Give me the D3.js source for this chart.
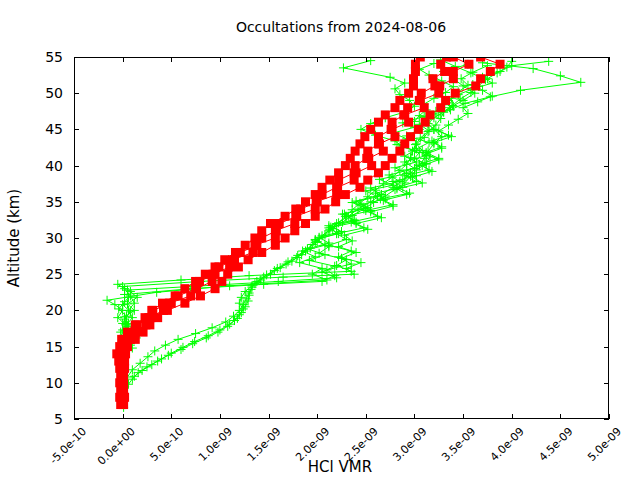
<!DOCTYPE html>
<html><head><meta charset="utf-8">
<script src="https://cdn.jsdelivr.net/npm/d3@7"></script>
<style>body{margin:0;background:#fff}svg{display:block}text{font-family:"DejaVu Sans",sans-serif;fill:#000}</style>
</head><body><svg id="c" width="640" height="480"></svg>
<script>
// values of VMR in units of 1e-9
const xTicks = [-0.5,0,0.5,1,1.5,2,2.5,3,3.5,4,4.5,5];
const xTickLabels = ["-5.0e-10","0.0e+00","5.0e-10","1.0e-09","1.5e-09","2.0e-09","2.5e-09","3.0e-09","3.5e-09","4.0e-09","4.5e-09","5.0e-09"];
const yTicks = [5,10,15,20,25,30,35,40,45,50,55];
const titleText = "Occultations from 2024-08-06";
const xLabel = "HCl VMR";
const yLabel = "Altitude (km)";

const redAlt = [7,8,9,10,11,12,13,14,15,16,17,18,19,20,21,22,23,24,25,26,27,28,29,30,31,32,33,34,35,36,37,38,39,40,41,42,43,44,45,46,47,48,49,50,51,52,53,54,55];
const red1 = [-0.02,-0.03,-0.02,-0.03,-0.02,-0.03,-0.04,-0.06,-0.03,-0.01,0.05,0.13,0.23,0.30,0.41,0.54,0.64,0.75,0.85,0.95,1.05,1.16,1.26,1.36,1.43,1.52,1.67,1.78,1.88,1.98,2.05,2.13,2.22,2.29,2.34,2.39,2.44,2.49,2.55,2.63,2.70,2.80,2.85,2.94,2.99,2.99,3.01,3.01,3.06];
const red2 = [0.00,0.01,0.00,-0.01,0.00,0.01,0.00,0.01,0.02,0.08,0.12,0.24,0.27,0.42,0.48,0.70,0.76,0.92,0.93,1.10,1.13,1.34,1.36,1.57,1.57,1.77,1.78,1.98,1.99,2.20,2.21,2.38,2.40,2.56,2.53,2.68,2.64,2.80,2.77,2.94,2.90,3.10,3.06,3.25,3.26,3.40,3.40,3.56,3.40];
const red3 = [-0.01,0.00,-0.01,0.00,-0.01,0.00,-0.01,-0.02,0.00,0.01,0.13,0.15,0.29,0.31,0.50,0.57,0.75,0.79,0.95,0.99,1.15,1.21,1.38,1.43,1.58,1.61,1.79,1.83,2.00,2.05,2.20,2.22,2.38,2.39,2.51,2.52,2.63,2.63,2.76,2.77,2.89,2.93,3.05,3.07,3.21,3.19,3.31,3.27,3.33];
const red4 = [0.01,0.02,0.01,0.01,0.01,0.02,0.02,0.03,0.05,0.13,0.21,0.28,0.36,0.46,0.64,0.80,0.95,1.02,1.08,1.19,1.29,1.43,1.57,1.67,1.77,1.88,1.98,2.08,2.19,2.29,2.44,2.52,2.63,2.70,2.77,2.85,2.90,2.96,3.04,3.11,3.16,3.27,3.32,3.42,3.63,3.68,3.78,3.88,3.68];

// green profiles: [altitude km, VMR 1e-9]
const g1 = [[6.6,0.01],[8.0,0.00],[9.5,0.02],[10.8,0.05],[11.8,0.10],[12.7,0.18],[13.6,0.26],[14.4,0.33],[15.2,0.44],[16.0,0.57],[16.8,0.75],[17.6,0.92],[18.4,1.06],[19.2,1.14],[20.0,1.20],[20.8,1.24],[21.6,1.27],[22.4,1.30],[23.2,1.33],[24.0,1.38],[24.9,1.48],[25.8,1.59],[26.7,1.70],[27.6,1.80],[28.5,1.90],[29.4,1.98],[30.3,2.05],[31.2,2.13],[32.1,2.22],[33.0,2.29],[33.9,2.36],[34.8,2.44],[35.7,2.52],[36.6,2.60],[37.5,2.68],[38.4,2.77],[39.3,2.85],[40.2,2.92],[41.1,2.96],[42.0,2.98],[42.9,3.01],[43.8,3.06],[44.7,3.14],[45.6,3.22],[46.5,3.27],[47.4,3.30],[48.3,3.39],[49.2,3.47],[50.1,3.58],[51.0,3.66],[51.9,3.73],[52.8,3.58],[53.7,3.42],[54.6,3.27]];
const g2 = [[9.8,0.06],[10.9,0.12],[11.7,0.20],[12.5,0.30],[13.3,0.40],[14.1,0.50],[14.9,0.62],[15.7,0.74],[16.5,0.88],[17.3,1.00],[18.1,1.10],[18.9,1.18],[19.7,1.22],[20.5,1.26],[21.3,1.29],[22.1,1.30],[22.9,1.32],[23.7,1.36],[24.6,1.45],[25.5,1.56],[26.4,1.68],[27.3,1.79],[28.2,1.88],[29.1,1.95],[30.0,2.02],[31.0,2.12],[32.0,2.20],[33.0,2.32],[34.0,2.42],[35.0,2.55],[36.0,2.66],[37.0,2.78],[38.0,2.88],[39.0,2.96],[40.0,3.05],[41.0,3.10],[42.0,3.14],[43.0,3.20],[44.0,3.28],[45.0,3.20],[46.0,3.12],[47.0,3.25],[48.0,3.36],[49.0,3.50],[50.0,3.62],[51.0,3.50],[52.0,3.40],[53.0,3.30],[54.0,3.55]];
const g3 = [[10.5,0.10],[11.4,0.16],[12.2,0.25],[13.0,0.36],[13.8,0.47],[14.6,0.60],[15.4,0.72],[16.2,0.86],[17.0,0.98],[17.8,1.08],[18.6,1.15],[19.4,1.20],[20.2,1.24],[21.0,1.20],[21.8,1.22],[22.6,1.26],[23.4,1.33],[24.2,1.42],[25.0,1.52],[25.9,1.62],[26.8,1.74],[27.7,1.84],[28.6,1.93],[29.5,2.00],[30.4,2.08],[31.3,2.16],[32.2,2.26],[33.1,2.36],[34.0,2.48],[34.9,2.58],[35.8,2.70],[36.7,2.80],[37.6,2.90],[38.5,2.96],[39.4,3.02],[40.3,3.12],[41.2,3.16],[42.1,3.08],[43.0,3.02],[43.9,3.10],[44.8,3.15],[45.7,3.05],[46.6,3.12],[47.5,3.22],[48.4,3.30],[49.3,3.38],[50.2,3.45],[51.1,3.55],[52.0,3.48],[52.9,3.60],[53.8,3.75]];
const g4 = [[15.0,0.05],[16.0,0.03],[17.0,0.08],[18.0,0.04],[19.0,0.10],[20.0,0.06],[21.0,0.12],[22.0,0.08],[23.0,0.02],[23.6,-0.05],[24.2,0.60],[24.8,1.30],[25.4,2.35],[26.2,2.20],[27.0,2.30],[27.9,2.02],[28.8,2.12],[29.7,1.98],[30.6,2.20],[31.5,2.14],[32.4,2.38],[33.3,2.28],[34.2,2.52],[35.1,2.40],[36.0,2.66],[36.9,2.55],[37.8,2.85],[38.7,2.74],[39.6,3.00],[40.5,2.90],[41.4,3.12],[42.3,3.02],[43.2,3.15],[44.1,2.92],[45.0,3.05],[45.9,2.88],[46.8,3.10],[47.7,3.37],[48.6,3.52],[49.5,3.78],[50.4,4.09],[51.5,4.71],[52.4,4.50],[53.4,4.22],[54.2,3.70]];
const g5 = [[15.5,0.00],[16.4,0.04],[17.3,0.00],[18.2,0.06],[19.1,0.02],[20.0,0.12],[20.9,0.05],[21.8,0.15],[22.6,0.08],[23.3,0.00],[24.0,0.80],[24.6,1.65],[25.0,2.38],[25.8,2.30],[26.6,2.45],[27.4,2.22],[28.2,2.35],[29.0,2.12],[29.8,2.30],[30.6,2.20],[31.4,2.48],[32.2,2.35],[33.0,2.62],[33.8,2.50],[34.6,2.78],[35.4,2.65],[36.2,2.95],[37.0,2.82],[37.8,3.02],[38.6,2.90],[39.4,3.15],[40.2,3.05],[41.0,3.25],[41.8,3.12],[42.6,3.28],[43.4,3.18],[44.2,3.35],[45.0,3.20],[45.8,3.14],[46.6,3.20],[47.4,3.30],[48.2,3.40],[49.0,3.35],[49.8,3.45],[50.6,3.60],[51.4,3.80],[52.2,3.70],[53.0,3.88],[53.8,4.00],[54.4,4.38]];
const g6 = [[14.8,0.10],[15.8,0.06],[16.8,0.12],[17.8,0.05],[18.8,0.02],[19.8,0.08],[20.8,0.00],[21.8,0.06],[22.8,0.05],[23.5,0.95],[24.0,1.60],[24.5,2.20],[25.3,2.05],[26.1,2.18],[26.9,1.92],[27.7,2.08],[28.5,1.90],[29.3,2.12],[30.1,2.02],[30.9,2.25],[31.7,2.12],[32.5,2.38],[33.3,2.26],[34.1,2.50],[34.9,2.36],[35.7,2.62],[36.5,2.50],[37.3,2.78],[38.1,2.64],[38.9,2.92],[39.7,2.80],[40.5,3.02],[41.3,2.90],[42.1,3.00],[42.9,2.82],[43.7,2.92],[44.5,2.78],[45.3,3.00],[46.1,3.00],[46.9,3.05],[47.7,3.12],[48.5,3.10],[49.3,3.20],[50.1,3.32],[50.9,3.40],[51.7,3.28],[52.5,3.15],[53.3,3.05],[54.1,3.20]];
const g7 = [[16.0,0.00],[17.0,-0.02],[18.0,0.03],[19.0,-0.05],[20.0,0.00],[20.8,-0.08],[21.4,-0.16],[22.5,0.35],[23.4,1.10],[24.2,2.10],[25.0,1.95],[25.8,2.05],[26.6,1.82],[27.4,1.98],[28.2,1.85],[29.0,2.08],[29.8,1.98],[30.6,2.22],[31.4,2.12],[32.2,2.40],[33.0,2.30],[33.8,2.55],[34.6,2.45],[35.4,2.70],[36.2,2.60],[37.0,2.88],[37.8,2.78],[38.6,3.02],[39.4,2.92],[40.2,3.12],[41.0,3.00],[41.8,3.05],[42.6,2.88],[43.4,2.80],[44.2,2.60],[45.0,2.45],[45.8,2.55],[46.6,2.70],[47.4,2.90],[48.2,3.00],[49.0,2.95],[49.8,2.85],[50.6,2.80],[51.4,2.90],[52.2,2.75],[53.5,2.27],[54.5,2.55]];
const g8 = [[15.2,0.08],[16.2,0.14],[17.2,0.10],[18.2,0.00],[19.2,0.04],[20.2,-0.04],[21.2,0.02],[22.2,0.02],[23.0,0.70],[23.6,1.45],[24.0,2.05],[24.8,2.18],[25.6,2.10],[26.4,2.35],[27.2,2.25],[28.0,2.40],[28.8,2.22],[29.6,2.36],[30.4,2.28],[31.2,2.52],[32.0,2.40],[32.8,2.66],[33.6,2.55],[34.4,2.78],[35.2,2.68],[36.0,2.92],[36.8,2.82],[37.6,3.08],[38.4,2.98],[39.2,3.18],[40.0,3.08],[40.8,3.25],[41.6,3.12],[42.4,3.28],[43.2,3.20],[44.0,3.38],[44.8,3.25],[45.6,3.35],[46.4,3.45],[47.2,3.55],[48.0,3.50],[48.8,3.65],[49.6,3.80],[50.4,3.70],[51.2,3.60],[52.0,3.75],[52.8,3.85],[53.6,3.95],[54.4,4.00]];

const greenProfiles = [g1,g2,g3,g4,g5,g6,g7,g8];
const redProfiles = [red1,red2,red3,red4].map(v => redAlt.map((a,i)=>[a,v[i]]));

const L=74, R=609, T=57, B=419;
const x = d3.scaleLinear().domain([-0.5,5]).range([L,R]);
const y = d3.scaleLinear().domain([5,55]).range([B,T]);
const svg = d3.select("#c");

svg.append("defs").append("clipPath").attr("id","clip").append("rect")
  .attr("x",L).attr("y",T).attr("width",R-L).attr("height",B-T);
const plot = svg.append("g").attr("clip-path","url(#clip)");

const line = d3.line().x(d=>x(d[1])).y(d=>y(d[0]));
const GREEN = "#00ff00", RED = "#ff0000";

greenProfiles.forEach(p=>{
  plot.append("path").datum(p).attr("d",line).attr("fill","none")
    .attr("stroke",GREEN).attr("stroke-width",1);
  plot.append("g").selectAll("path").data(p).join("path")
    .attr("d",d=>`M${x(d[1])-4.5},${y(d[0])}h9M${x(d[1])},${y(d[0])-4.5}v9`)
    .attr("stroke",GREEN).attr("stroke-width",1).attr("fill","none");
});
redProfiles.forEach(p=>{
  plot.append("path").datum(p).attr("d",line).attr("fill","none")
    .attr("stroke",RED).attr("stroke-width",1);
  plot.append("g").selectAll("rect").data(p).join("rect")
    .attr("x",d=>x(d[1])-4.5).attr("y",d=>y(d[0])-4.5)
    .attr("width",9).attr("height",9).attr("fill",RED);
});

// axes (inward ticks, mirrored)
const ax = svg.append("g");
ax.append("g").attr("transform",`translate(0,${B})`)
  .call(d3.axisBottom(x).tickValues(xTicks).tickSize(-5).tickFormat(""));
ax.append("g").attr("transform",`translate(0,${T})`)
  .call(d3.axisTop(x).tickValues(xTicks).tickSize(-5).tickFormat(""));
ax.append("g").attr("transform",`translate(${L},0)`)
  .call(d3.axisLeft(y).tickValues(yTicks).tickSize(-5).tickFormat(""));
ax.append("g").attr("transform",`translate(${R},0)`)
  .call(d3.axisRight(y).tickValues(yTicks).tickSize(-5).tickFormat(""));
ax.selectAll(".domain").remove();
ax.selectAll(".tick line").attr("stroke","#000").attr("shape-rendering","crispEdges");
svg.append("rect").attr("x",L+0.5).attr("y",T+0.5).attr("width",R-L-1).attr("height",B-T-1)
  .attr("fill","none").attr("stroke","#000").attr("stroke-width",1);

// tick labels
svg.append("g").selectAll("text").data(xTicks).join("text")
  .attr("transform",(d)=>`translate(${x(d)+13},${B+13}) rotate(-45)`)
  .attr("text-anchor","end").attr("font-size",11)
  .text((d,i)=>xTickLabels[i]);
svg.append("g").selectAll("text").data(yTicks).join("text")
  .attr("x",L-11).attr("y",d=>y(d)).attr("dy","0.36em")
  .attr("text-anchor","end").attr("font-size",14).text(d=>d);

svg.append("text").attr("x",341).attr("y",32).attr("text-anchor","middle")
  .attr("font-size",14).text(titleText);
svg.append("text").attr("x",340).attr("y",472).attr("text-anchor","middle")
  .attr("font-size",15).text(xLabel);
svg.append("text").attr("transform","translate(19,238) rotate(-90)").attr("text-anchor","middle")
  .attr("font-size",15).text(yLabel);
</script></body></html>
